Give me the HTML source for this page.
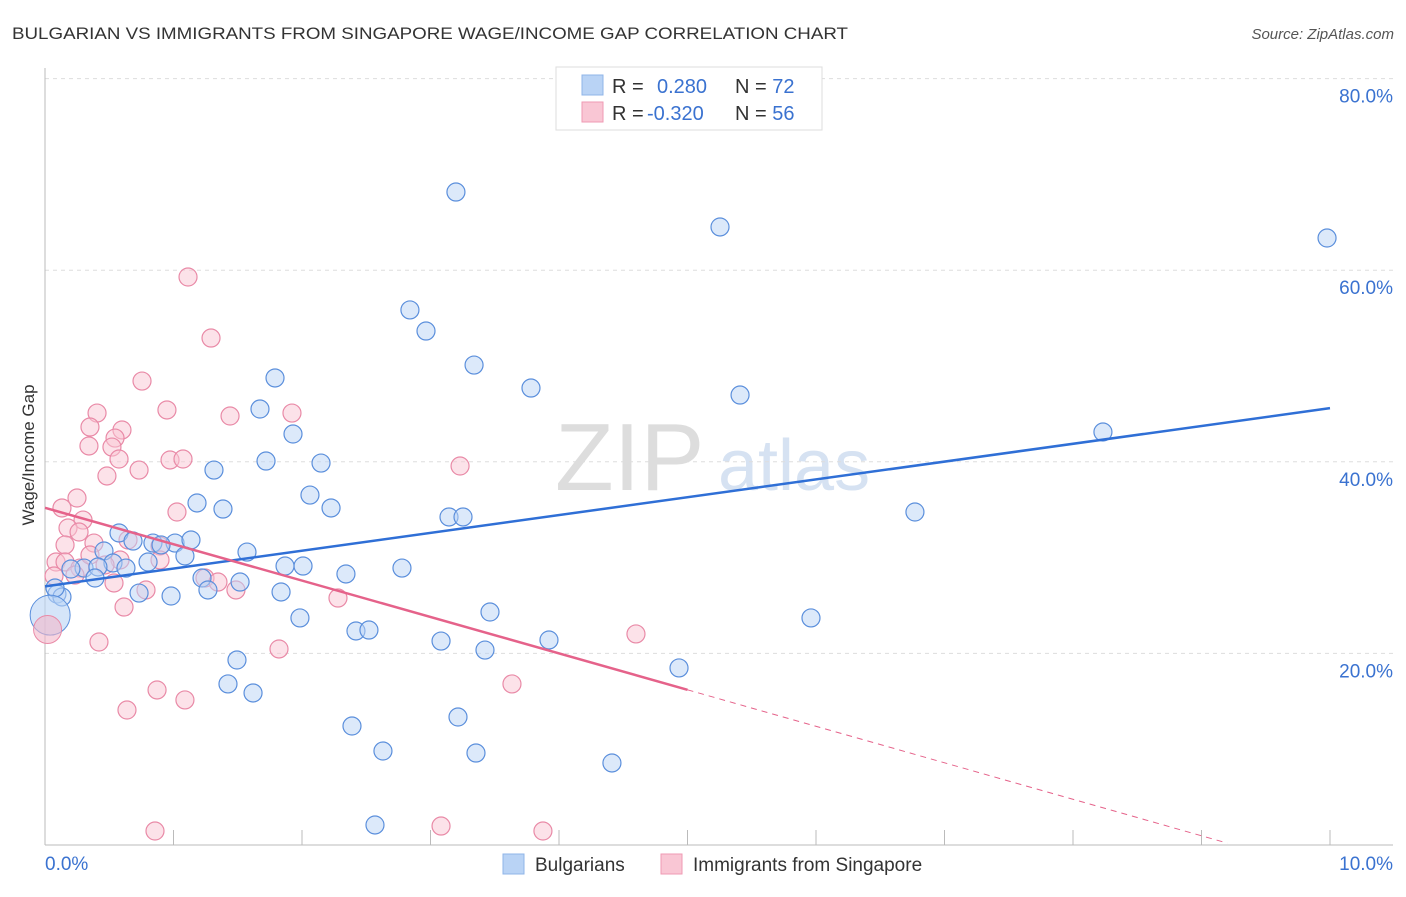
<!DOCTYPE html>
<html><head><meta charset="utf-8"><style>
body{margin:0;background:#fff;font-family:"Liberation Sans",sans-serif;}
svg text{font-family:"Liberation Sans",sans-serif;}
</style></head><body>
<svg id="chart" width="1406" height="892" xmlns="http://www.w3.org/2000/svg">
<text x="12" y="39" font-size="17" fill="#333" textLength="836" lengthAdjust="spacingAndGlyphs">BULGARIAN VS IMMIGRANTS FROM SINGAPORE WAGE/INCOME GAP CORRELATION CHART</text>
<text x="1394" y="39" font-size="15" fill="#555" font-style="italic" text-anchor="end">Source: ZipAtlas.com</text>
<g><text x="555" y="490" font-size="96" fill="#ddd" font-family="Liberation Serif">ZIP</text><text x="718" y="490" font-size="72" fill="#d6e2f2">atlas</text></g>
<g id="grid"></g><g id="axes"></g><g id="marks"></g>
<text transform="translate(34,455) rotate(-90)" font-size="17" fill="#333" text-anchor="middle">Wage/Income Gap</text>
<g>
<rect x="556" y="67" width="266" height="63" fill="#fff" stroke="#ddd"/>
<rect x="582" y="75" width="21" height="20" fill="#b9d3f5" stroke="#8fb4e8"/>
<rect x="582" y="102" width="21" height="20" fill="#f9c6d4" stroke="#ef9ab3"/>
<text x="612" y="93" font-size="20" fill="#333">R = <tspan x="657" fill="#3a72d0">0.280</tspan><tspan x="735" fill="#333">N = </tspan><tspan fill="#3a72d0">72</tspan></text>
<text x="612" y="120" font-size="20" fill="#333">R = <tspan x="647" fill="#3a72d0">-0.320</tspan><tspan x="735" fill="#333">N = </tspan><tspan fill="#3a72d0">56</tspan></text>
</g>
<g>
<rect x="503" y="854" width="21" height="20" fill="#b9d3f5" stroke="#8fb4e8"/>
<text x="535" y="871" font-size="19" fill="#333">Bulgarians</text>
<rect x="661" y="854" width="21" height="20" fill="#f9c6d4" stroke="#ef9ab3"/>
<text x="693" y="871" font-size="19" fill="#333">Immigrants from Singapore</text>
</g>
</svg>
<script>
const yTicks=[20,40,60,80];
const yTickLabels=["20.0%","40.0%","60.0%","80.0%"];
const xTickLabels=["0.0%","10.0%"];
const bluePx=[[456,192],[720,227],[1327,238],[410,310],[426,331],[474,365],[531,388],[740,395],[275,378],[260,409],[293,434],[1103,432],[266,461],[321,463],[214,470],[310,495],[197,503],[223,509],[331,508],[449,517],[463,517],[915,512],[119,533],[133,541],[153,543],[175,543],[191,540],[161,545],[104,551],[148,562],[185,556],[247,552],[113,563],[126,568],[84,568],[98,567],[71,569],[95,578],[57,594],[62,597],[139,593],[171,596],[202,578],[208,590],[240,582],[285,566],[303,566],[281,592],[346,574],[402,568],[300,618],[490,612],[356,631],[369,630],[441,641],[549,640],[811,618],[485,650],[679,668],[237,660],[228,684],[253,693],[352,726],[458,717],[383,751],[476,753],[612,763],[375,825],[55,588]];
const pinkPx=[[188,277],[211,338],[142,381],[167,410],[97,413],[230,416],[292,413],[90,427],[122,430],[115,438],[89,446],[112,447],[119,459],[170,460],[183,459],[139,470],[460,466],[107,476],[77,498],[62,508],[177,512],[83,520],[68,528],[79,532],[65,545],[94,543],[56,562],[65,562],[80,568],[128,540],[160,546],[120,560],[205,578],[218,582],[114,583],[146,590],[236,590],[338,598],[124,607],[99,642],[279,649],[636,634],[54,576],[157,690],[185,700],[127,710],[512,684],[155,831],[441,826],[543,831],[160,560],[90,555],[105,565],[75,575]];
const blueX=bluePx.map(p=>+((p[0]-45)/128.5).toFixed(3)), blueY=bluePx.map(p=>+((845-p[1])/9.58).toFixed(2));
const pinkX=pinkPx.map(p=>+((p[0]-45)/128.5).toFixed(3)), pinkY=pinkPx.map(p=>+((845-p[1])/9.58).toFixed(2));
const blueTrend=[[0,27.0],[10,45.6]];
const pinkTrend=[[0,35.2],[5,16.2],[9.2,0.2]];
const X=v=>45+v*128.5, Y=v=>845-v*9.58;
const NS="http://www.w3.org/2000/svg";
function mk(tag,attrs,parent){const e=document.createElementNS(NS,tag);for(const k in attrs)e.setAttribute(k,attrs[k]);document.getElementById(parent).appendChild(e);return e;}
yTicks.forEach((t,i)=>{
 const l=mk('line',{x1:45,x2:1393,y1:Y(t),y2:Y(t),stroke:'#ddd','stroke-dasharray':'4,4'},'grid');
 
 
 const tx=mk('text',{x:1393,y:Y(t)+24,'font-size':19,fill:'#3a72d0','text-anchor':'end'},'axes');tx.textContent=yTickLabels[i];
 
 
});
let a=mk('line',{x1:45,x2:45,y1:68,y2:845,stroke:'#bbb'},'axes');


a=mk('line',{x1:45,x2:1393,y1:845,y2:845,stroke:'#bbb'},'axes');


for(let i=1;i<=10;i++){const t=mk('line',{x1:45+i*128.5,x2:45+i*128.5,y1:830,y2:845,stroke:'#bbb'},'axes');
 
 }
[[0,45,'start'],[10,1393,'end']].forEach((d,i)=>{const t=mk('text',{x:d[1],y:870,'font-size':19,fill:'#3a72d0','text-anchor':d[2]},'axes');t.textContent=xTickLabels[i];
 
 });
function dots(xs,ys,fill,stroke,name){xs.forEach((x,i)=>{const c=mk('circle',{cx:X(x),cy:Y(ys[i]),r:9,fill:fill,'fill-opacity':0.5,stroke:stroke,'stroke-width':1.2},'marks');
 
 });}
dots(pinkX,pinkY,'#f9c6d4','#e98aa7','point-singapore');
dots(blueX,blueY,'#b9d3f5','#5b8fdc','point-bulgarian');
let c=mk('circle',{cx:X(0.04),cy:Y(24.0),r:20,fill:'#b9d3f5','fill-opacity':0.6,stroke:'#5b8fdc'},'marks');


c=mk('circle',{cx:X(0.02),cy:Y(22.5),r:14,fill:'#f4b8c9','fill-opacity':0.6,stroke:'#e98aa7'},'marks');


let l=mk('line',{x1:X(blueTrend[0][0]),y1:Y(blueTrend[0][1]),x2:X(blueTrend[1][0]),y2:Y(blueTrend[1][1]),stroke:'#2f6fd6','stroke-width':2.5},'marks');


l=mk('line',{x1:X(pinkTrend[0][0]),y1:Y(pinkTrend[0][1]),x2:X(pinkTrend[1][0]),y2:Y(pinkTrend[1][1]),stroke:'#e5628a','stroke-width':2.5},'marks');


l=mk('line',{x1:X(pinkTrend[1][0]),y1:Y(pinkTrend[1][1]),x2:X(pinkTrend[2][0]),y2:Y(pinkTrend[2][1]),stroke:'#e5628a','stroke-width':1,'stroke-dasharray':'6,5'},'marks');


</script>
</body></html>
